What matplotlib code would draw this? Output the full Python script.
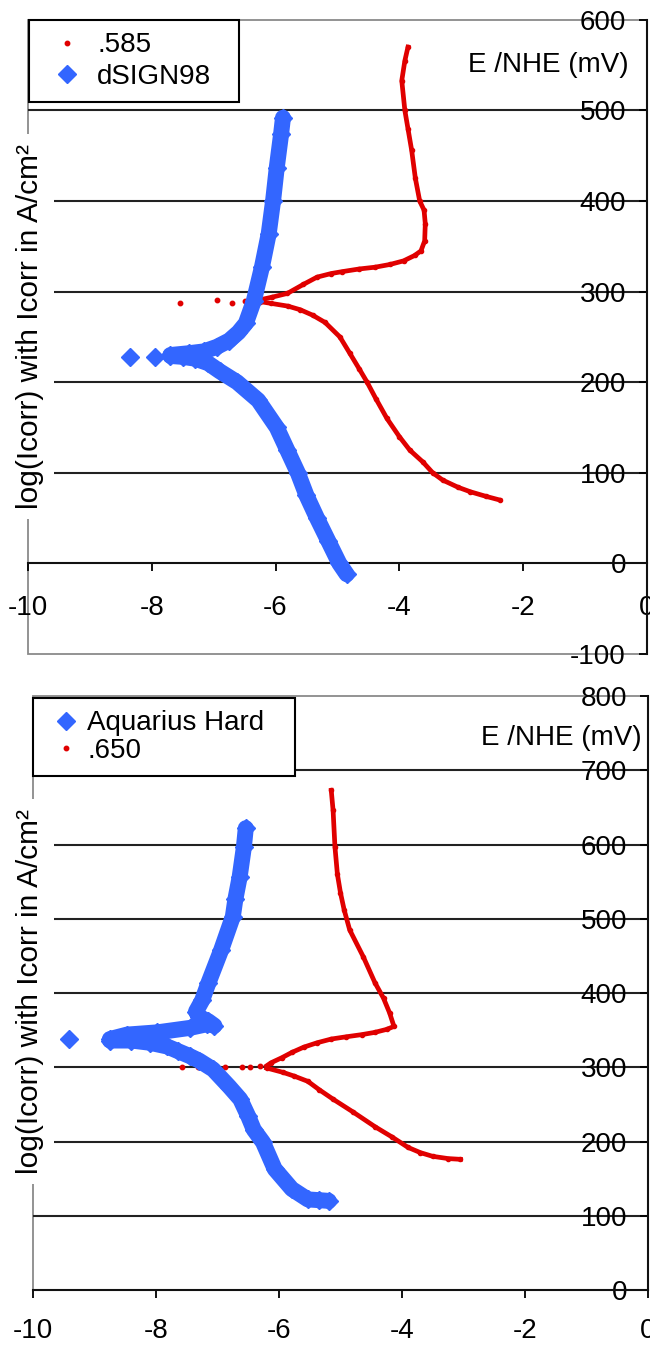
import matplotlib
matplotlib.use('Agg')
import matplotlib.pyplot as plt

plt.rcParams['font.family'] = ['Liberation Sans', 'DejaVu Sans']
plt.rcParams['axes.unicode_minus'] = False

# ---- top panel: .585 (red) and dSIGN98 (blue) ----
red585_cath_x = [-2.38, -2.6, -2.85, -3.05, -3.3, -3.46, -3.62, -3.83, -4.0, -4.2, -4.38, -4.52,
                 -4.65, -4.8, -4.96, -5.2, -5.4, -5.6, -5.8, -6.07, -6.25]
red585_cath_y = [70, 74, 79, 84, 92, 100, 112, 125, 140, 160, 182, 200,
                 215, 232, 250, 266, 274, 280, 284, 287, 289]
red585_ecorr_x = [-7.54, -6.95, -6.7, -6.5, -6.4]
red585_ecorr_y = [288, 291, 288, 290, 289]
red585_anod_x = [-6.25, -6.05, -5.81, -5.55, -5.33, -5.1, -4.93, -4.65, -4.39, -4.15, -3.93, -3.75,
                 -3.65, -3.59, -3.58, -3.6, -3.67, -3.74, -3.8, -3.86, -3.91, -3.96, -3.91, -3.86]
red585_anod_y = [291, 294, 298, 308, 316, 320, 322, 325, 327, 330, 334, 340,
                 345, 356, 375, 390, 400, 425, 456, 480, 500, 533, 555, 570]

dsign_cath_x = [-4.85, -4.97, -5.15, -5.33, -5.5, -5.64, -5.81, -5.98, -6.28, -6.62, -6.9, -7.09,
                -7.3, -7.5, -7.7]
dsign_cath_y = [-12, 0, 25, 50, 75, 100, 125, 150, 180, 200, 212, 221,
                226, 228, 229]
dsign_ecorr_x = [-8.35, -7.95]
dsign_ecorr_y = [228, 228]
dsign_anod_x = [-7.7, -7.4, -7.16, -6.95, -6.75, -6.6, -6.48, -6.35, -6.22, -6.11, -6.04, -5.98,
                -5.91, -5.88]
dsign_anod_y = [230, 232, 234, 239, 246, 255, 265, 290, 327, 364, 400, 437,
                474, 492]

# ---- bottom panel: Aquarius Hard (blue) and .650 (red) ----
aqua_cath_x = [-5.19, -5.35, -5.53, -5.79, -6.07, -6.26, -6.41, -6.5, -6.63, -6.81, -7.07, -7.3,
               -7.45, -7.65, -7.82, -8.1, -8.4, -8.75]
aqua_cath_y = [120, 121, 122, 136, 163, 199, 216, 234, 257, 274, 297, 309,
               315, 322, 328, 333, 336, 336]
aqua_ecorr_x = [-9.41]
aqua_ecorr_y = [338]
aqua_anod_x = [-8.75, -8.47, -7.98, -7.45, -7.17, -7.05, -7.15, -7.3, -7.35, -7.25, -7.15, -6.94,
               -6.75, -6.71, -6.64, -6.57, -6.54]
aqua_anod_y = [338, 344, 347, 353, 358, 356, 362, 368, 375, 390, 413, 458,
               503, 526, 556, 597, 622]

red650_cath_x = [-3.05, -3.25, -3.5, -3.7, -3.9, -4.16, -4.44, -4.8, -5.12, -5.35, -5.53, -5.75,
                 -5.93, -6.2]
red650_cath_y = [176, 177, 180, 185, 192, 206, 220, 240, 257, 270, 281, 288,
                 293, 299]
red650_ecorr_x = [-7.58, -7.32, -6.88, -6.6, -6.47, -6.31]
red650_ecorr_y = [300, 301, 300, 301, 300, 302]
red650_anod_x = [-6.2, -6.13, -5.95, -5.79, -5.6, -5.38, -5.15, -4.91, -4.65, -4.44, -4.25, -4.13,
                 -4.2, -4.3, -4.44, -4.63, -4.85, -4.94, -5.0, -5.05, -5.09, -5.12, -5.15]
red650_anod_y = [302, 306, 313, 320, 327, 333, 338, 341, 344, 347, 351, 355,
                 373, 393, 414, 449, 485, 512, 535, 560, 597, 646, 673]

BLUE = '#3366ff'
RED = '#e00000'
FS = 20


def draw_red(ax, bx, by, ex, ey, ax_, ay_):
    ax.plot(bx, by, color=RED, lw=3.4, marker='o', ms=3, zorder=3)
    ax.plot(ax_, ay_, color=RED, lw=3.4, marker='o', ms=3, zorder=3)
    h, = ax.plot(ex, ey, ls='none', color=RED, marker='o', ms=3.2, zorder=3)
    return h


def draw_blue(ax, bx, by, ex, ey, ax_, ay_):
    ax.plot(bx, by, color=BLUE, lw=11.5, marker='D', ms=9, solid_capstyle='round', zorder=4)
    ax.plot(ax_, ay_, color=BLUE, lw=11.5, marker='D', ms=9, solid_capstyle='round', zorder=4)
    h, = ax.plot(ex, ey, ls='none', color=BLUE, marker='D', ms=9, zorder=4)
    return h


def setup(ax, ymin, ymax, grid_vals, label_xy, title_x, xpad):
    ax.set_xlim(-10, 0)
    ax.set_ylim(ymin, ymax)
    ax.set_xticks(range(-10, 1, 2))
    ax.set_yticks(range(ymin, ymax + 1, 100))
    ax.spines['left'].set_position(('data', 0))
    ax.spines['bottom'].set_position(('data', 0))
    ax.spines['top'].set_visible(False)
    ax.spines['right'].set_visible(False)
    for s in ('left', 'bottom'):
        ax.spines[s].set_linewidth(1.5)
        ax.spines[s].set_color('#111111')
    ax.patch.set_edgecolor('#8a8a8a')
    ax.patch.set_linewidth(1.3)
    ax.tick_params(axis='both', direction='out', length=6, width=1.3, labelsize=FS)
    ax.tick_params(axis='y', pad=9)
    ax.tick_params(axis='x', pad=xpad)
    ax.hlines(grid_vals, -10, 0, colors='#222222', lw=1.5, zorder=1)
    ax.text(label_xy[0], label_xy[1], 'log(Icorr) with Icorr in A/cm²', transform=ax.transAxes,
            rotation=90, ha='center', va='center', fontsize=21.5, zorder=6,
            bbox=dict(fc='white', ec='none', pad=7))
    ax.text(title_x, 0.929, 'E /NHE (mV)', transform=ax.transAxes,
            ha='right', va='center', fontsize=FS)


fig = plt.figure(figsize=(6.5, 13.45), dpi=100)
ax1 = fig.add_axes([0.0431, 0.5138, 0.952, 0.4714])
ax2 = fig.add_axes([0.0508, 0.0409, 0.946, 0.4416])

setup(ax1, -100, 600, [100, 200, 300, 400, 500], (0.003, 0.516), 0.971, 17)
h_red585 = draw_red(ax1, red585_cath_x, red585_cath_y, red585_ecorr_x, red585_ecorr_y,
                    red585_anod_x, red585_anod_y)
h_dsign = draw_blue(ax1, dsign_cath_x, dsign_cath_y, dsign_ecorr_x, dsign_ecorr_y,
                    dsign_anod_x, dsign_anod_y)
leg1 = ax1.legend([h_red585, h_dsign], ['.585', 'dSIGN98'], loc='upper left',
                  bbox_to_anchor=(0.0016, 0.5, 0.34, 0.5), mode='expand', fontsize=FS,
                  borderpad=0.45, labelspacing=0.2, handlelength=1.8, handletextpad=0.2,
                  borderaxespad=0, fancybox=False, framealpha=1, edgecolor='black')
leg1.get_frame().set_linewidth(1.5)
leg1.set_zorder(7)

setup(ax2, 0, 800, [100, 200, 300, 400, 500, 600, 700], (-0.005, 0.503), 0.990, 14)
h_aqua = draw_blue(ax2, aqua_cath_x, aqua_cath_y, aqua_ecorr_x, aqua_ecorr_y,
                   aqua_anod_x, aqua_anod_y)
h_red650 = draw_red(ax2, red650_cath_x, red650_cath_y, red650_ecorr_x, red650_ecorr_y,
                    red650_anod_x, red650_anod_y)
leg2 = ax2.legend([h_aqua, h_red650], ['Aquarius Hard', '.650'], loc='upper left',
                  bbox_to_anchor=(0.0, 0.5, 0.426, 0.497), mode='expand', fontsize=FS,
                  borderpad=0.45, labelspacing=0.05, handlelength=1.5, handletextpad=0.0,
                  borderaxespad=0, fancybox=False, framealpha=1, edgecolor='black')
leg2.get_frame().set_linewidth(1.5)
leg2.set_zorder(7)

fig.savefig('out.png', dpi=100)
